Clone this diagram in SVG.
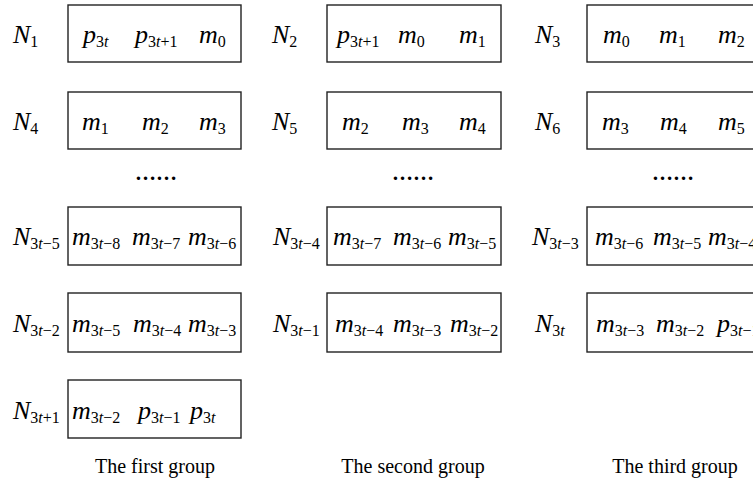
<svg xmlns="http://www.w3.org/2000/svg" width="753" height="485" viewBox="0 0 753 485">
<style>
text{font-family:"Liberation Serif","Times New Roman",serif;fill:#000}
.v{font-size:26px;font-style:italic}
.s{font-size:16px;font-style:normal}
.si{font-size:16px;font-style:italic}
.box{fill:#fff;stroke:#222;stroke-width:1.4}
.dots{font-size:21px;font-weight:bold;text-anchor:middle}
.cap{font-size:20px;text-anchor:middle}
</style>
<rect width="753" height="485" fill="#fff"/>
<g id="col1">
<g id="n1">
<text class="v" x="13" y="43">N<tspan class="s" dy="4">1</tspan></text>
<rect class="box" x="68" y="5" width="173" height="57"/>
<text class="v" x="83" y="43">p<tspan class="s" dy="4">3</tspan><tspan class="si">t</tspan></text>
<text class="v" x="135" y="43">p<tspan class="s" dy="4">3</tspan><tspan class="si">t</tspan><tspan class="s">+1</tspan></text>
<text class="v" x="199" y="43">m<tspan class="s" dy="4">0</tspan></text>
</g>
<g id="n4">
<text class="v" x="13" y="130">N<tspan class="s" dy="4">4</tspan></text>
<rect class="box" x="68" y="92" width="173" height="57"/>
<text class="v" x="82" y="130">m<tspan class="s" dy="4">1</tspan></text>
<text class="v" x="142" y="130">m<tspan class="s" dy="4">2</tspan></text>
<text class="v" x="199" y="130">m<tspan class="s" dy="4">3</tspan></text>
</g>
<text class="dots" x="156" y="180">……</text>
<g id="n3t-5">
<text class="v" x="13" y="245">N<tspan class="s" dy="4">3</tspan><tspan class="si">t</tspan><tspan class="s">−5</tspan></text>
<rect class="box" x="68" y="207" width="173" height="58"/>
<text class="v" x="72" y="245">m<tspan class="s" dy="4">3</tspan><tspan class="si">t</tspan><tspan class="s">−8</tspan></text>
<text class="v" x="132" y="245">m<tspan class="s" dy="4">3</tspan><tspan class="si">t</tspan><tspan class="s">−7</tspan></text>
<text class="v" x="188" y="245">m<tspan class="s" dy="4">3</tspan><tspan class="si">t</tspan><tspan class="s">−6</tspan></text>
</g>
<g id="n3t-2">
<text class="v" x="13" y="332">N<tspan class="s" dy="4">3</tspan><tspan class="si">t</tspan><tspan class="s">−2</tspan></text>
<rect class="box" x="68" y="293" width="173" height="59"/>
<text class="v" x="72" y="332">m<tspan class="s" dy="4">3</tspan><tspan class="si">t</tspan><tspan class="s">−5</tspan></text>
<text class="v" x="133" y="332">m<tspan class="s" dy="4">3</tspan><tspan class="si">t</tspan><tspan class="s">−4</tspan></text>
<text class="v" x="188" y="332">m<tspan class="s" dy="4">3</tspan><tspan class="si">t</tspan><tspan class="s">−3</tspan></text>
</g>
<g id="n3t+1">
<text class="v" x="13" y="419">N<tspan class="s" dy="4">3</tspan><tspan class="si">t</tspan><tspan class="s">+1</tspan></text>
<rect class="box" x="68" y="380" width="173" height="58"/>
<text class="v" x="72" y="419">m<tspan class="s" dy="4">3</tspan><tspan class="si">t</tspan><tspan class="s">−2</tspan></text>
<text class="v" x="138" y="419">p<tspan class="s" dy="4">3</tspan><tspan class="si">t</tspan><tspan class="s">−1</tspan></text>
<text class="v" x="190" y="419">p<tspan class="s" dy="4">3</tspan><tspan class="si">t</tspan></text>
</g>
<text class="cap" x="155" y="473">The first group</text>
</g>
<g id="col2">
<g id="n2">
<text class="v" x="272" y="43">N<tspan class="s" dy="4">2</tspan></text>
<rect class="box" x="327" y="5" width="174" height="57"/>
<text class="v" x="337" y="43">p<tspan class="s" dy="4">3</tspan><tspan class="si">t</tspan><tspan class="s">+1</tspan></text>
<text class="v" x="398" y="43">m<tspan class="s" dy="4">0</tspan></text>
<text class="v" x="459" y="43">m<tspan class="s" dy="4">1</tspan></text>
</g>
<g id="n5">
<text class="v" x="272" y="130">N<tspan class="s" dy="4">5</tspan></text>
<rect class="box" x="327" y="92" width="174" height="57"/>
<text class="v" x="342" y="130">m<tspan class="s" dy="4">2</tspan></text>
<text class="v" x="402" y="130">m<tspan class="s" dy="4">3</tspan></text>
<text class="v" x="459" y="130">m<tspan class="s" dy="4">4</tspan></text>
</g>
<text class="dots" x="413" y="180">……</text>
<g id="n3t-4">
<text class="v" x="273" y="245">N<tspan class="s" dy="4">3</tspan><tspan class="si">t</tspan><tspan class="s">−4</tspan></text>
<rect class="box" x="327" y="207" width="174" height="58"/>
<text class="v" x="333" y="245">m<tspan class="s" dy="4">3</tspan><tspan class="si">t</tspan><tspan class="s">−7</tspan></text>
<text class="v" x="393" y="245">m<tspan class="s" dy="4">3</tspan><tspan class="si">t</tspan><tspan class="s">−6</tspan></text>
<text class="v" x="448" y="245">m<tspan class="s" dy="4">3</tspan><tspan class="si">t</tspan><tspan class="s">−5</tspan></text>
</g>
<g id="n3t-1">
<text class="v" x="273" y="332">N<tspan class="s" dy="4">3</tspan><tspan class="si">t</tspan><tspan class="s">−1</tspan></text>
<rect class="box" x="327" y="293" width="174" height="59"/>
<text class="v" x="335" y="332">m<tspan class="s" dy="4">3</tspan><tspan class="si">t</tspan><tspan class="s">−4</tspan></text>
<text class="v" x="393" y="332">m<tspan class="s" dy="4">3</tspan><tspan class="si">t</tspan><tspan class="s">−3</tspan></text>
<text class="v" x="450" y="332">m<tspan class="s" dy="4">3</tspan><tspan class="si">t</tspan><tspan class="s">−2</tspan></text>
</g>
<text class="cap" x="413" y="473">The second group</text>
</g>
<g id="col3">
<g id="n3">
<text class="v" x="535" y="43">N<tspan class="s" dy="4">3</tspan></text>
<rect class="box" x="587" y="5" width="174" height="57"/>
<text class="v" x="603" y="43">m<tspan class="s" dy="4">0</tspan></text>
<text class="v" x="659" y="43">m<tspan class="s" dy="4">1</tspan></text>
<text class="v" x="718" y="43">m<tspan class="s" dy="4">2</tspan></text>
</g>
<g id="n6">
<text class="v" x="535" y="130">N<tspan class="s" dy="4">6</tspan></text>
<rect class="box" x="587" y="92" width="174" height="57"/>
<text class="v" x="602" y="130">m<tspan class="s" dy="4">3</tspan></text>
<text class="v" x="660" y="130">m<tspan class="s" dy="4">4</tspan></text>
<text class="v" x="718" y="130">m<tspan class="s" dy="4">5</tspan></text>
</g>
<text class="dots" x="673" y="180">……</text>
<g id="n3t-3">
<text class="v" x="532" y="245">N<tspan class="s" dy="4">3</tspan><tspan class="si">t</tspan><tspan class="s">−3</tspan></text>
<rect class="box" x="587" y="207" width="174" height="58"/>
<text class="v" x="595" y="245">m<tspan class="s" dy="4">3</tspan><tspan class="si">t</tspan><tspan class="s">−6</tspan></text>
<text class="v" x="653" y="245">m<tspan class="s" dy="4">3</tspan><tspan class="si">t</tspan><tspan class="s">−5</tspan></text>
<text class="v" x="708" y="245">m<tspan class="s" dy="4">3</tspan><tspan class="si">t</tspan><tspan class="s">−4</tspan></text>
</g>
<g id="n3t">
<text class="v" x="535" y="332">N<tspan class="s" dy="4">3</tspan><tspan class="si">t</tspan></text>
<rect class="box" x="587" y="293" width="174" height="59"/>
<text class="v" x="596" y="332">m<tspan class="s" dy="4">3</tspan><tspan class="si">t</tspan><tspan class="s">−3</tspan></text>
<text class="v" x="656" y="332">m<tspan class="s" dy="4">3</tspan><tspan class="si">t</tspan><tspan class="s">−2</tspan></text>
<text class="v" x="717" y="332">p<tspan class="s" dy="4">3</tspan><tspan class="si">t</tspan><tspan class="s">−1</tspan></text>
</g>
<text class="cap" x="675" y="473">The third group</text>
</g>
<g id="connectors"/>
</svg>
